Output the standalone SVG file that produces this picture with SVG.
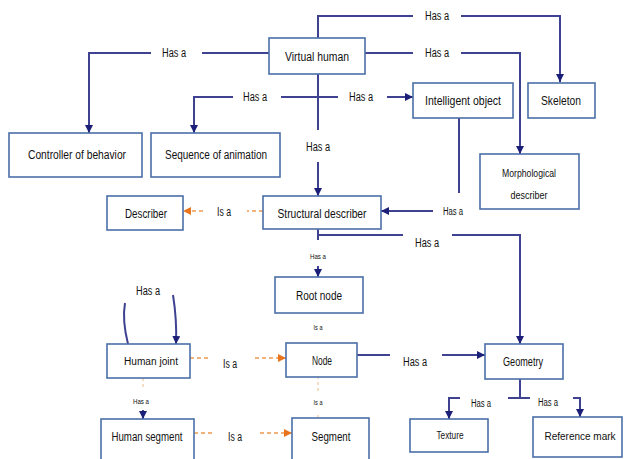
<svg xmlns="http://www.w3.org/2000/svg" width="625" height="459" viewBox="0 0 625 459">
  <defs>
    <style>
      .box { fill: #ffffff; stroke: #4a6fa8; stroke-width: 1.6; }
      .lbl { font-family: "Liberation Sans Narrow", "Liberation Sans", Arial, sans-serif; font-size: 12px; fill: #111111; text-anchor: middle; }
      .sm { font-size: 10px; }
      .xs { font-size: 7px; }
      .edge { fill: none; stroke: #3e4290; stroke-width: 2; }
      .isa { fill: none; stroke: #f3b27a; stroke-width: 2; stroke-dasharray: 4 3; }
      .faint { fill: none; stroke: #f0d3b0; stroke-width: 1.5; stroke-dasharray: 3 3; }
    </style>
    <marker id="ah" viewBox="0 0 10 10" refX="10" refY="5" markerWidth="4" markerHeight="4" orient="auto">
      <path d="M0,0 L10,5 L0,10 z" fill="#1c1f78"/>
    </marker>
    <marker id="ao" viewBox="0 0 10 10" refX="10" refY="5" markerWidth="4" markerHeight="4" orient="auto">
      <path d="M0,0 L10,5 L0,10 z" fill="#e8741c"/>
    </marker>
  </defs>

  <rect width="625" height="459" fill="#ffffff"/>

  <!-- connectors -->
  <g id="connectors">
    <!-- Virtual human -> Skeleton -->
    <path class="edge" d="M318,38 V16 H413"/>
    <path class="edge" d="M461,16 H560 V82" marker-end="url(#ah)"/>
    <!-- Virtual human -> Morphological describer -->
    <path class="edge" d="M365,53 H413"/>
    <path class="edge" d="M461,53 H520 V154" marker-end="url(#ah)"/>
    <!-- Virtual human -> Controller of behavior -->
    <path class="edge" d="M269,53 H202"/>
    <path class="edge" d="M151,53 H89 V133" marker-end="url(#ah)"/>
    <!-- Virtual human -> Structural describer -->
    <path class="edge" d="M318,74 V130"/>
    <path class="edge" d="M318,162 V196" marker-end="url(#ah)"/>
    <!-- branch -> Sequence of animation / Intelligent object -->
    <path class="edge" d="M281,97 H338"/>
    <path class="edge" d="M233,97 H194 V133" marker-end="url(#ah)"/>
    <path class="edge" d="M387,97 H413" marker-end="url(#ah)"/>
    <!-- Intelligent object -> Structural describer -->
    <path class="edge" d="M459,118 V193"/>
    <path class="edge" d="M433,211 H381" marker-end="url(#ah)"/>
    <!-- Structural describer -> Describer (is a) -->
    <path class="isa" d="M263,211 H247"/>
    <path class="isa" d="M203,211 H183" marker-end="url(#ao)"/>
    <!-- Structural describer -> Root node -->
    <path class="edge" d="M318,229 V240"/>
    <path class="edge" d="M318,266 V277" marker-end="url(#ah)"/>
    <!-- Structural describer -> Geometry -->
    <path class="edge" d="M318,235 H403"/>
    <path class="edge" d="M452,235 H520 V344" marker-end="url(#ah)"/>
    <!-- Human joint self relation -->
    <path class="edge" d="M128,344 Q122,320 125,303"/>
    <path class="edge" d="M173,295 Q177,320 176,344" marker-end="url(#ah)"/>
    <!-- Human joint -> Node (is a) -->
    <path class="isa" d="M190,358 H208"/>
    <path class="isa" d="M255,358 H286" marker-end="url(#ao)"/>
    <!-- Node -> Geometry -->
    <path class="edge" d="M357,355 H390"/>
    <path class="edge" d="M442,355 H485" marker-end="url(#ah)"/>
    <!-- Geometry -> Texture / Reference mark -->
    <path class="edge" d="M520,379 V398 M508,398 H530"/>
    <path class="edge" d="M460,398 H449 V419" marker-end="url(#ah)"/>
    <path class="edge" d="M573,398 H580 V417" marker-end="url(#ah)"/>
    <!-- Human joint -> Human segment -->
    <path class="faint" d="M143,378 V388" stroke="#c8cbe0"/>
    <path class="edge" d="M143,410 V419" marker-end="url(#ah)"/>
    <!-- Human segment -> Segment (is a) -->
    <path class="isa" d="M194,433 H213"/>
    <path class="isa" d="M260,433 H292" marker-end="url(#ao)"/>
    <!-- Segment -> Node -->
    <path class="faint" d="M318,391 V378"/>
    <path class="faint" d="M318,418 V412"/>
  </g>

  <!-- connector labels -->
  <g id="labels">
    <text class="lbl" x="437" y="20" textLength="24" lengthAdjust="spacingAndGlyphs">Has a</text>
    <text class="lbl" x="437" y="57" textLength="24" lengthAdjust="spacingAndGlyphs">Has a</text>
    <text class="lbl" x="174" y="57" textLength="24" lengthAdjust="spacingAndGlyphs">Has a</text>
    <text class="lbl" x="255" y="101" textLength="24" lengthAdjust="spacingAndGlyphs">Has a</text>
    <text class="lbl" x="361" y="101" textLength="24" lengthAdjust="spacingAndGlyphs">Has a</text>
    <text class="lbl" x="318" y="151" textLength="24" lengthAdjust="spacingAndGlyphs">Has a</text>
    <text class="lbl sm" x="453" y="215" textLength="20" lengthAdjust="spacingAndGlyphs">Has a</text>
    <text class="lbl" x="224" y="216" textLength="14" lengthAdjust="spacingAndGlyphs">Is a</text>
    <text class="lbl" x="427" y="247" textLength="24" lengthAdjust="spacingAndGlyphs">Has a</text>
    <text class="lbl xs" x="318" y="259" textLength="16" lengthAdjust="spacingAndGlyphs">Has a</text>
    <text class="lbl xs" x="318" y="330" textLength="9" lengthAdjust="spacingAndGlyphs">Is a</text>
    <text class="lbl" x="148" y="295" textLength="24" lengthAdjust="spacingAndGlyphs">Has a</text>
    <text class="lbl" x="230" y="368" textLength="14" lengthAdjust="spacingAndGlyphs">Is a</text>
    <text class="lbl" x="415" y="366" textLength="24" lengthAdjust="spacingAndGlyphs">Has a</text>
    <text class="lbl xs" x="141" y="404" textLength="16" lengthAdjust="spacingAndGlyphs">Has a</text>
    <text class="lbl xs" x="318" y="405" textLength="9" lengthAdjust="spacingAndGlyphs">Is a</text>
    <text class="lbl sm" x="481" y="407" textLength="20" lengthAdjust="spacingAndGlyphs">Has a</text>
    <text class="lbl sm" x="548" y="406" textLength="20" lengthAdjust="spacingAndGlyphs">Has a</text>
    <text class="lbl" x="235" y="441" textLength="14" lengthAdjust="spacingAndGlyphs">Is a</text>
  </g>

  <!-- nodes -->
  <g id="virtual-human">
    <rect class="box" x="269" y="38" width="96" height="36"/>
    <text class="lbl" x="317" y="61" textLength="64" lengthAdjust="spacingAndGlyphs">Virtual human</text>
  </g>
  <g id="controller-of-behavior">
    <rect class="box" x="9" y="133" width="133" height="44"/>
    <text class="lbl" x="77" y="159" textLength="98" lengthAdjust="spacingAndGlyphs">Controller of behavior</text>
  </g>
  <g id="sequence-of-animation">
    <rect class="box" x="151" y="133" width="129" height="44"/>
    <text class="lbl" x="216" y="159" textLength="102" lengthAdjust="spacingAndGlyphs">Sequence of animation</text>
  </g>
  <g id="intelligent-object">
    <rect class="box" x="413" y="83" width="100" height="35"/>
    <text class="lbl" x="463" y="105" textLength="76" lengthAdjust="spacingAndGlyphs">Intelligent object</text>
  </g>
  <g id="skeleton">
    <rect class="box" x="528" y="83" width="67" height="35"/>
    <text class="lbl" x="561" y="105" textLength="40" lengthAdjust="spacingAndGlyphs">Skeleton</text>
  </g>
  <g id="morphological-describer">
    <rect class="box" x="480" y="154" width="99" height="55"/>
    <text class="lbl sm" x="529" y="177" textLength="54" lengthAdjust="spacingAndGlyphs">Morphological</text>
    <text class="lbl sm" x="529" y="199" textLength="37" lengthAdjust="spacingAndGlyphs">describer</text>
  </g>
  <g id="describer">
    <rect class="box" x="107" y="196" width="76" height="34"/>
    <text class="lbl" x="146" y="218" textLength="42" lengthAdjust="spacingAndGlyphs">Describer</text>
  </g>
  <g id="structural-describer">
    <rect class="box" x="263" y="196" width="118" height="33"/>
    <text class="lbl" x="322" y="218" textLength="89" lengthAdjust="spacingAndGlyphs">Structural describer</text>
  </g>
  <g id="root-node">
    <rect class="box" x="275" y="277" width="88" height="36"/>
    <text class="lbl" x="319" y="300" textLength="46" lengthAdjust="spacingAndGlyphs">Root node</text>
  </g>
  <g id="human-joint">
    <rect class="box" x="107" y="344" width="83" height="34"/>
    <text class="lbl sm" x="151" y="365" textLength="54" lengthAdjust="spacingAndGlyphs">Human joint</text>
  </g>
  <g id="node">
    <rect class="box" x="286" y="343" width="71" height="34"/>
    <text class="lbl" x="322" y="365" textLength="20" lengthAdjust="spacingAndGlyphs">Node</text>
  </g>
  <g id="geometry">
    <rect class="box" x="485" y="344" width="78" height="35"/>
    <text class="lbl" x="523" y="366" textLength="40" lengthAdjust="spacingAndGlyphs">Geometry</text>
  </g>
  <g id="human-segment">
    <rect class="box" x="101" y="419" width="93" height="44"/>
    <text class="lbl" x="147" y="441" textLength="71" lengthAdjust="spacingAndGlyphs">Human segment</text>
  </g>
  <g id="segment">
    <rect class="box" x="292" y="418" width="77" height="44"/>
    <text class="lbl" x="331" y="441" textLength="39" lengthAdjust="spacingAndGlyphs">Segment</text>
  </g>
  <g id="texture">
    <rect class="box" x="410" y="419" width="78" height="33"/>
    <text class="lbl sm" x="450" y="439" textLength="27" lengthAdjust="spacingAndGlyphs">Texture</text>
  </g>
  <g id="reference-mark">
    <rect class="box" x="533" y="417" width="89" height="40"/>
    <text class="lbl sm" x="580" y="440">Reference mark</text>
  </g>
</svg>
